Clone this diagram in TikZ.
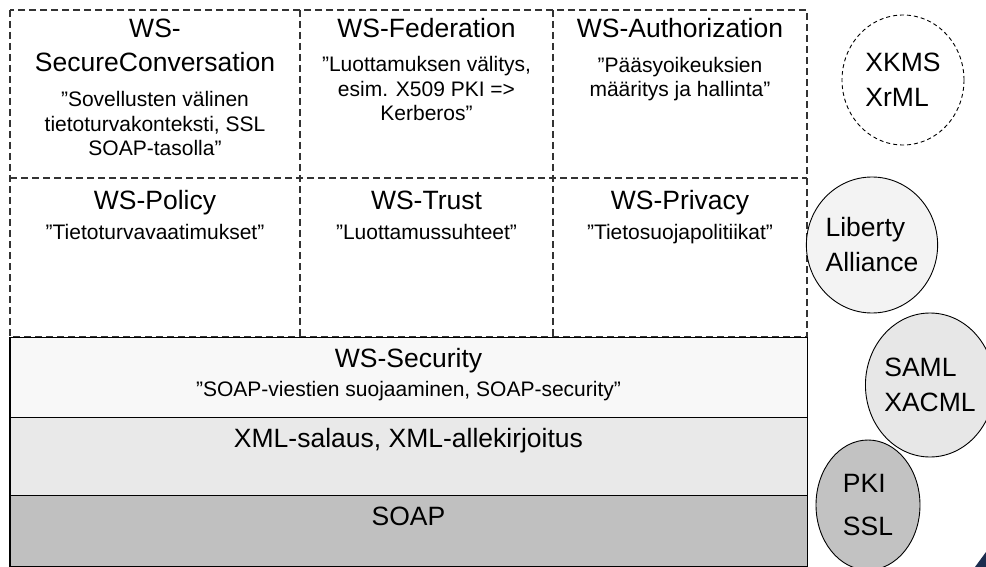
\documentclass[tikz,border=0pt]{standalone}
\usepackage{fontspec}
\setmainfont{Liberation Sans}
\usetikzlibrary{shapes.geometric}
\definecolor{secfill}{HTML}{F8F8F8}
\definecolor{xmlfill}{HTML}{E9E9E9}
\definecolor{soapfill}{HTML}{C0C0C0}
\definecolor{libfill}{HTML}{F3F3F3}
\definecolor{samlfill}{HTML}{E7E7E7}
\definecolor{pkifill}{HTML}{C2C2C2}
\definecolor{gridcol}{HTML}{333333}
\definecolor{navy}{HTML}{1B2D4F}
\begin{document}
\begin{tikzpicture}[x=1pt,y=-1pt,
  gridline/.style={draw=gridcol, line width=1.2pt, dash pattern=on 7pt off 4pt},
  head/.style={font=\fontsize{26.5}{34}\selectfont, anchor=base, inner sep=0pt, align=center},
  sub/.style={font=\fontsize{21}{24.5}\selectfont, anchor=base, inner sep=0pt, align=center},
  layer/.style={rectangle, draw=black, line width=1.3pt, inner sep=0pt, anchor=north west, minimum width=797pt},
  tech/.style={ellipse, draw=black, line width=0.9pt, inner sep=0pt, align=left, font=\fontsize{26.5}{35}\selectfont}
]
\clip (0,0) rectangle (986,567);
\fill[white] (0,0) rectangle (986,567);

% dashed upper grid
\draw[gridline] (10,10) rectangle (807,337);
\draw[gridline] (10,178) -- (807,178);
\draw[gridline] (300,10) -- (300,337);
\draw[gridline] (553,10) -- (553,337);

% row 1 (base anchor = baseline of last line)
\node[head] (secconv) at (155,72) {WS-\\SecureConversation};
\node[sub] (secconvd) at (155,156) {”Sovellusten välinen\\tietoturvakonteksti, SSL\\SOAP-tasolla”};
\node[head] (fed) at (426.5,38) {WS-Federation};
\node[sub] (fedd) at (426.5,121) {”Luottamuksen välitys,\\esim. X509 PKI =>\\Kerberos”};
\node[head] (authz) at (680,38) {WS-Authorization};
\node[sub] (authzd) at (680,97) {”Pääsyoikeuksien\\määritys ja hallinta”};

% row 2
\node[head] (policy) at (155,210) {WS-Policy};
\node[sub] (policyd) at (155,240) {”Tietoturvavaatimukset”};
\node[head] (trust) at (426.5,210) {WS-Trust};
\node[sub] (trustd) at (426.5,240) {”Luottamussuhteet”};
\node[head] (privacy) at (680,210) {WS-Privacy};
\node[sub] (privacyd) at (680,240) {”Tietosuojapolitiikat”};

% solid layers
\node[layer, fill=secfill, minimum height=80pt] (wssec) at (10,337) {};
\node[layer, fill=xmlfill, minimum height=78pt] (xml) at (10,417) {};
\node[layer, fill=soapfill, minimum height=71pt] (soap) at (10,495) {};
\draw[line width=2pt] (wssec.north west) -- (soap.south west);

\node[head] (wssect) at (408.5,367) {WS-Security};
\node[sub] (wssecd) at (408.5,396) {”SOAP-viestien suojaaminen, SOAP-security”};
\node[head] (xmlt) at (408.5,447) {XML-salaus, XML-allekirjoitus};
\node[head] (soapt) at (408.5,525) {SOAP};

% technologies
\node[tech, dash pattern=on 4pt off 3pt, fill=white, minimum width=122pt, minimum height=130pt] (xkms) at (903,80) {XKMS\\XrML};
\node[tech, fill=libfill, minimum width=113pt, minimum height=136pt] (liberty) at (872,245) {Liberty\\Alliance};
\node[tech, fill=samlfill, minimum width=124pt, minimum height=144pt] (saml) at (930,385) {SAML\\XACML};
\node[tech, fill=pkifill, minimum width=104pt, minimum height=130pt, font=\fontsize{26.5}{43}\selectfont] (pki) at (868,505) {PKI\\SSL};

% corner fragment
\fill[navy] (975,567) -- (986,552) -- (986,567) -- cycle;
\end{tikzpicture}
\end{document}
